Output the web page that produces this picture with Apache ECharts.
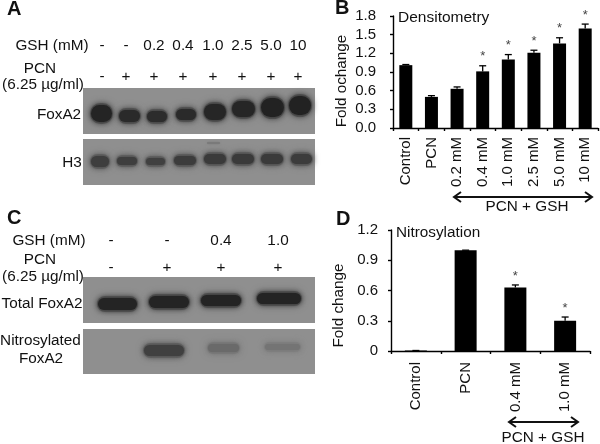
<!DOCTYPE html>
<html>
<head>
<meta charset="utf-8">
<style>
  html, body { margin: 0; padding: 0; background: #fff; }
  #chart { width: 600px; height: 444px; }
</style>
<script src="https://cdn.jsdelivr.net/npm/echarts@6/dist/echarts.min.js"></script>
</head>
<body>
<div id="chart"></div>
<script>
// panel B - densitometry
const densCategories = ['Control', 'PCN', '0.2 mM', '0.4 mM', '1.0 mM', '2.5 mM', '5.0 mM', '10 mM']
const densValues = [1.01, 0.5, 0.63, 0.91, 1.1, 1.21, 1.36, 1.6]
const densErrorTops = [1.02, 0.52, 0.66, 1.0, 1.18, 1.25, 1.45, 1.67]
const densStars = ['', '', '', '*', '*', '*', '*', '*']
const densTicks = [0, 0.3, 0.6, 0.9, 1.2, 1.5, 1.8]

// panel D - nitrosylation
const nitroCategories = ['Control', 'PCN', '0.4 mM', '1.0 mM']
const nitroValues = [0.005, 1.0, 0.63, 0.3]
const nitroErrorTops = [0.005, 1.0, 0.655, 0.337]
const nitroStars = ['', '', '*', '*']

const FONT = '"Liberation Sans", Arial, sans-serif'
const BLOT_GREY = 143

// blot pictures, x/y/w/h of the bands are in page pixels, last number is the grey level
const blotPanels = [[83, 88, 232, 46], [83, 139, 232, 46], [83, 277, 232, 46], [83, 329, 232, 45]]
const blotBands = [
  // FoxA2
  [91, 105, 21, 17, 36], [119, 110, 21, 12, 42], [147, 111, 20, 11, 44], [176, 109, 20, 11, 42],
  [204, 104, 22, 16, 38], [232, 101, 23, 16, 38], [261, 98, 23, 19, 34], [289, 96, 22, 19, 34],
  // H3
  [91, 156, 18, 11, 62], [117, 157, 20, 8, 62], [146, 158, 19, 7, 64], [174, 156, 22, 9, 60],
  [204, 154, 22, 10, 58], [232, 154, 22, 10, 58], [261, 154, 22, 10, 58], [291, 154, 21, 10, 60],
  // Total FoxA2
  [98, 298, 39, 12, 36], [149, 296, 40, 12, 36], [201, 295, 40, 11, 36], [257, 293, 44, 11, 36],
  // Nitrosylated FoxA2
  [144, 345, 40, 11, 64], [208, 344, 31, 8, 106], [265, 344, 35, 6, 116]
]
// faint spot above the H3 band, too close to the panel edge for the halo
const faintSpot = [207, 142, 13, 2, 122]

function text (str, x, y, size, opts) {
  return {
    type: 'text',
    x: x,
    y: y,
    silent: true,
    style: Object.assign({
      text: str,
      font: size + 'px ' + FONT,
      fill: '#111',
      align: 'center',
      verticalAlign: 'middle'
    }, opts || {})
  }
}

function arrow (x1, x2, y) {
  const style = { stroke: '#111', lineWidth: 2, fill: 'none' }
  return [
    { type: 'line', shape: { x1: x1, y1: y, x2: x2, y2: y }, style: style, silent: true },
    { type: 'polyline', shape: { points: [[x1 + 7, y - 5], [x1, y], [x1 + 7, y + 5]] }, style: style, silent: true },
    { type: 'polyline', shape: { points: [[x2 - 7, y - 5], [x2, y], [x2 - 7, y + 5]] }, style: style, silent: true }
  ]
}

function grey (level) {
  return 'rgb(' + level + ',' + level + ',' + level + ')'
}

// soft halo under a dark core, so the band edge fades like film
function band (b) {
  const core = grey(b[4])
  const halo = grey(Math.round((b[4] * 0.45 + BLOT_GREY * 0.55)))
  return [
    {
      type: 'rect',
      silent: true,
      shape: { x: b[0] - 1, y: b[1] - 2, width: b[2] + 2, height: b[3] + 4, r: (b[3] + 4) / 2 },
      style: { fill: halo, shadowBlur: 7, shadowColor: halo }
    },
    {
      type: 'rect',
      silent: true,
      shape: { x: b[0], y: b[1], width: b[2], height: b[3], r: b[3] / 2 },
      style: { fill: core, shadowBlur: 5, shadowColor: core }
    }
  ]
}

function blotGraphics () {
  const out = []
  blotPanels.forEach(p => {
    out.push({
      type: 'rect',
      silent: true,
      shape: { x: p[0], y: p[1], width: p[2], height: p[3] },
      style: { fill: grey(BLOT_GREY) }
    })
  })
  blotBands.forEach(b => out.push(...band(b)))
  out.push({
    type: 'rect',
    silent: true,
    shape: { x: faintSpot[0], y: faintSpot[1], width: faintSpot[2], height: faintSpot[3], r: 1 },
    style: { fill: grey(faintSpot[4]), shadowBlur: 2, shadowColor: grey(faintSpot[4]) }
  })
  return out
}

function labelGraphics () {
  const out = []
  const bold = { font: 'bold 20px ' + FONT, align: 'left' }
  out.push(text('A', 7, 9, 20, bold), text('B', 335, 8, 20, bold), text('C', 7, 218, 20, bold), text('D', 336, 219, 20, bold))

  // panel A header
  const hs = 15.3
  out.push(text('GSH (mM)', 52, 46, hs), text('PCN', 40, 69, hs), text('(6.25 µg/ml)', 43, 85, hs))
  const gshA = ['-', '-', '0.2', '0.4', '1.0', '2.5', '5.0', '10']
  const pcnA = ['-', '+', '+', '+', '+', '+', '+', '+']
  const colsA = [102, 126, 154, 183, 213, 242, 271, 298]
  colsA.forEach((x, i) => {
    out.push(text(gshA[i], x, 46, hs), text(pcnA[i], x, 77, hs))
  })
  out.push(text('FoxA2', 59, 115, hs), text('H3', 72, 163, hs))

  // panel C header
  out.push(text('GSH (mM)', 49, 241, hs), text('PCN', 40, 260, hs), text('(6.25 µg/ml)', 43, 277, hs))
  const gshC = ['-', '-', '0.4', '1.0']
  const pcnC = ['-', '+', '+', '+']
  const colsC = [111, 167, 221, 278]
  colsC.forEach((x, i) => {
    out.push(text(gshC[i], x, 241, hs), text(pcnC[i], x, 268, hs))
  })
  out.push(text('Total FoxA2', 42, 304, hs), text('Nitrosylated', 40.5, 341, hs), text('FoxA2', 41, 359, hs))

  // chart annotations
  out.push(text('Densitometry', 398, 18, 15.5, { align: 'left' }), text('Nitrosylation', 396, 233, 15.3, { align: 'left' }))
  out.push(...arrow(454, 592, 197), text('PCN + GSH', 527, 207, hs))
  out.push(...arrow(509, 578, 422), text('PCN + GSH', 543, 438, hs))
  return out
}

// upper error bar with cap, plus the asterisk above it
function errorItem (stars, capHalf, starGap) {
  return function (params, api) {
    const i = api.value(0)
    const bottom = api.coord([i, api.value(1)])
    const top = api.coord([i, api.value(2)])
    const style = { stroke: '#000', lineWidth: 1.3 }
    const children = [
      { type: 'line', shape: { x1: bottom[0], y1: bottom[1], x2: top[0], y2: top[1] }, style: style },
      { type: 'line', shape: { x1: top[0] - capHalf, y1: top[1], x2: top[0] + capHalf, y2: top[1] }, style: style }
    ]
    if (stars[i]) {
      children.push({
        type: 'text',
        style: {
          text: stars[i],
          x: top[0],
          y: top[1] - starGap,
          font: '13px ' + FONT,
          fill: '#444',
          align: 'center',
          verticalAlign: 'middle'
        }
      })
    }
    return { type: 'group', children: children }
  }
}

const axisLine = { show: true, onZero: false, lineStyle: { color: '#000', width: 1.4 } }
const axisTick = { show: true, length: 3, lineStyle: { color: '#000', width: 1.4 } }

function catAxis (gridIndex, data, margin) {
  return {
    type: 'category',
    gridIndex: gridIndex,
    data: data,
    axisLine: axisLine,
    axisTick: Object.assign({ alignWithLabel: false }, axisTick),
    axisLabel: { rotate: 90, interval: 0, margin: margin, color: '#111', fontFamily: FONT, fontSize: 15 }
  }
}

function valAxis (gridIndex, max, fmt, gap, margin, name, namePush) {
  return {
    type: 'value',
    gridIndex: gridIndex,
    min: 0,
    max: max,
    interval: 0.3,
    name: name,
    nameLocation: 'middle',
    nameGap: gap,
    // the names sit below the middle of the axis in the figure
    nameTextStyle: { color: '#111', fontFamily: FONT, fontSize: 15.3, padding: [0, namePush, 0, 0] },
    splitLine: { show: false },
    axisLine: axisLine,
    axisTick: axisTick,
    axisLabel: { margin: margin, color: '#111', fontFamily: FONT, fontSize: 15, formatter: fmt }
  }
}

const chart = echarts.init(document.getElementById('chart'), null, { renderer: 'canvas' })
chart.setOption({
  animation: false,
  backgroundColor: '#fff',
  graphic: { elements: blotGraphics().concat(labelGraphics()) },
  grid: [
    { left: 393, top: 16, width: 205, height: 112 },
    { left: 391, top: 230, width: 199, height: 121 }
  ],
  xAxis: [catAxis(0, densCategories, 9), catAxis(1, nitroCategories, 11)],
  yAxis: [
    valAxis(0, densTicks[densTicks.length - 1], v => v.toFixed(1), 44, 17, 'Fold ochange', 18),
    valAxis(1, 1.2, v => (v === 0 ? '0' : v.toFixed(1)), 45, 13, 'Fold change', 30)
  ],
  series: [
    {
      type: 'bar',
      xAxisIndex: 0,
      yAxisIndex: 0,
      barWidth: 13,
      itemStyle: { color: '#000' },
      data: densValues
    },
    {
      type: 'custom',
      xAxisIndex: 0,
      yAxisIndex: 0,
      renderItem: errorItem(densStars, 3.5, 9),
      encode: { x: 0, y: 2 },
      data: densValues.map((v, i) => [i, v, densErrorTops[i]])
    },
    {
      type: 'bar',
      xAxisIndex: 1,
      yAxisIndex: 1,
      barWidth: 22,
      itemStyle: { color: '#000' },
      data: nitroValues
    },
    {
      type: 'custom',
      xAxisIndex: 1,
      yAxisIndex: 1,
      renderItem: errorItem(nitroStars, 3.5, 9),
      encode: { x: 0, y: 2 },
      data: nitroValues.map((v, i) => [i, v, nitroErrorTops[i]])
    }
  ]
})
</script>
</body>
</html>
